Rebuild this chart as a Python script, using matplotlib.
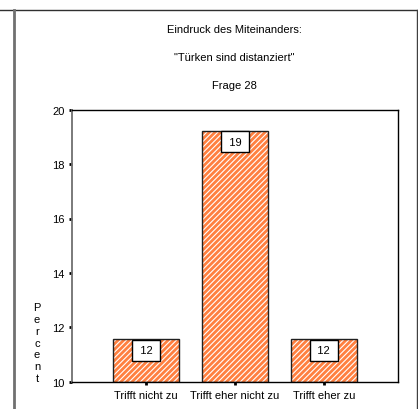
import matplotlib.pyplot as plt
from matplotlib.lines import Line2D

plt.rcParams['font.family'] = ['Liberation Sans', 'DejaVu Sans']
plt.rcParams['hatch.linewidth'] = 0.8

kategorien = ["Trifft nicht zu", "Trifft eher nicht zu", "Trifft eher zu"]
prozent = [11.57, 19.23, 11.57]
y_ticks = [10, 12, 14, 16, 18, 20]
titel = ["Eindruck des Miteinanders:", "\"Türken sind distanziert\"", "Frage 28"]

W, H = 418, 410
fig = plt.figure(figsize=(W / 100, H / 100), dpi=100)
ax = fig.add_axes([71.5 / W, 1 - 382.7 / H, (397.7 - 71.5) / W, (382.7 - 110.7) / H])

pos = list(range(len(kategorien)))
orange = '#ff8040'
# fond hachuré blanc puis contour noir
ax.bar(pos, [p - 10 for p in prozent], bottom=10, width=0.735, color=orange,
       edgecolor='white', hatch='//////', linewidth=0)
ax.bar(pos, [p - 10 for p in prozent], bottom=10, width=0.735, fill=False,
       edgecolor='#202020', linewidth=1)

for x, p in zip(pos, prozent):
    ax.annotate(f"\u2009{p:.0f}\u2009", (x, p), xytext=(0, -4.5), textcoords='offset points',
                ha='center', va='top', fontsize=8,
                bbox=dict(boxstyle='square,pad=0.5', facecolor='white',
                          edgecolor='black', linewidth=1))

ax.set_ylim(10, 20)
ax.set_xlim(-0.84, 2.83)
ax.set_yticks(y_ticks)
ax.set_xticks(pos)
ax.set_xticklabels(kategorien)
ax.tick_params(axis='both', direction='out', length=2, width=2, labelsize=8,
               colors='black', pad=3)
ax.tick_params(axis='x', pad=4)

ax.spines['left'].set_color('#707070')
ax.spines['left'].set_linewidth(1.3)
for s in ['top', 'right', 'bottom']:
    ax.spines[s].set_color('black')
    ax.spines[s].set_linewidth(1)

# titres
for i, t in enumerate(titel):
    fig.text(234 / W, 1 - (30 + 28 * i) / H, t, ha='center', va='center', fontsize=8)

# étiquette verticale lettre par lettre
fig.text(37 / W, 1 - 384 / H, "\n".join("Percent"), ha='center', va='bottom',
         fontsize=8, linespacing=1.22)

# cadre extérieur
fig.add_artist(Line2D([0, 1], [1 - 10.5 / H] * 2, color='#303030', lw=1))
fig.add_artist(Line2D([13.5 / W] * 2, [0, 1 - 10.5 / H], color='#707070', lw=2))
fig.add_artist(Line2D([417 / W] * 2, [0, 1 - 10.5 / H], color='#404040', lw=1))

fig.savefig('out.png', dpi=100)
